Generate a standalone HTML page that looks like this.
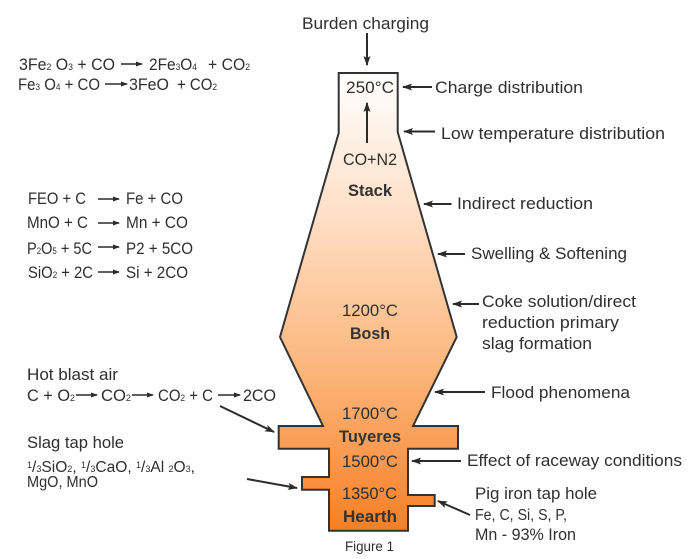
<!DOCTYPE html>
<html>
<head>
<meta charset="utf-8">
<style>
html,body{margin:0;padding:0;background:#fff;width:700px;height:559px;overflow:hidden}
svg{display:block}
text{font-family:"Liberation Sans",sans-serif;font-size:16.5px;fill:#2f2f2f}
.b{font-weight:bold;fill:#333}
.s{font-size:9px}
.f{font-size:14px}
</style>
</head>
<body>
<svg width="700" height="559" viewBox="0 0 700 559" xmlns="http://www.w3.org/2000/svg">
<defs>
<linearGradient id="g" gradientUnits="userSpaceOnUse" x1="0" y1="73" x2="0" y2="531">
<stop offset="0" stop-color="#ffffff"/>
<stop offset="0.3" stop-color="#fee0c8"/>
<stop offset="0.6" stop-color="#fcbc86"/>
<stop offset="0.8" stop-color="#fa9f58"/>
<stop offset="1" stop-color="#f57f24"/>
</linearGradient>
<marker id="a" markerWidth="10" markerHeight="8" refX="9" refY="3.5" orient="auto" markerUnits="userSpaceOnUse">
<path d="M0,0 L10,3.5 L0,7 L2,3.5 Z" fill="#2b2b2b"/>
</marker>
<marker id="m" markerWidth="7" markerHeight="6" refX="6" refY="2.5" orient="auto" markerUnits="userSpaceOnUse">
<path d="M0,0 L7,2.5 L0,5 Z" fill="#2b2b2b"/>
</marker>
</defs>

<polygon fill="url(#g)" stroke="#333" stroke-width="2" stroke-linejoin="miter" points="338.7,73 397.7,73 397.7,132 456.7,337 413,426 458,426 458,448.7 408,448.7 408,495 434.7,495 434.7,506 408,506 408,530.7 329,530.7 329,489.7 302,489.7 302,477 329,477 329,448.7 278.7,448.7 278.7,426 323,426 280,337 338.7,133"/>

<g fill="none" stroke="#2b2b2b" stroke-width="2">
<line x1="367" y1="33" x2="367" y2="65" marker-end="url(#a)"/>
<line x1="367" y1="143" x2="367" y2="103" marker-end="url(#a)"/>
<line x1="432" y1="87" x2="403" y2="87" marker-end="url(#a)"/>
<line x1="435" y1="131.5" x2="404" y2="131.5" marker-end="url(#a)"/>
<line x1="451.500" y1="204" x2="424" y2="204" marker-end="url(#a)"/>
<line x1="465" y1="254" x2="438" y2="254" marker-end="url(#a)"/>
<line x1="479" y1="304" x2="453" y2="304" marker-end="url(#a)"/>
<line x1="485" y1="392" x2="435" y2="392" marker-end="url(#a)"/>
<line x1="461" y1="461" x2="412" y2="461" marker-end="url(#a)"/>
<line x1="470" y1="515" x2="438" y2="501" marker-end="url(#a)"/>
<line x1="220" y1="406" x2="274" y2="432" marker-end="url(#a)"/>
<line x1="247" y1="479" x2="297" y2="488" marker-end="url(#a)"/>
</g>

<g fill="none" stroke="#2b2b2b" stroke-width="1.6">
<line x1="121" y1="64" x2="142" y2="64" marker-end="url(#m)"/>
<line x1="105" y1="84" x2="127" y2="84" marker-end="url(#m)"/>
<line x1="98" y1="199" x2="119" y2="199" marker-end="url(#m)"/>
<line x1="98" y1="223" x2="119" y2="223" marker-end="url(#m)"/>
<line x1="98" y1="247" x2="119" y2="247" marker-end="url(#m)"/>
<line x1="98" y1="272" x2="119" y2="272" marker-end="url(#m)"/>
<line x1="76" y1="395" x2="97" y2="395" marker-end="url(#m)"/>
<line x1="132" y1="395" x2="153" y2="395" marker-end="url(#m)"/>
<line x1="218" y1="395" x2="240" y2="395" marker-end="url(#m)"/>
</g>

<text x="302" y="29" textLength="127" lengthAdjust="spacingAndGlyphs">Burden charging</text>
<text x="346" y="93" textLength="48" lengthAdjust="spacingAndGlyphs">250°C</text>
<text x="343" y="165" textLength="54" lengthAdjust="spacingAndGlyphs">CO+N2</text>
<text class="b" x="348" y="196" textLength="44" lengthAdjust="spacingAndGlyphs">Stack</text>
<text x="342" y="316" textLength="56" lengthAdjust="spacingAndGlyphs">1200°C</text>
<text class="b" x="350" y="339" textLength="40" lengthAdjust="spacingAndGlyphs">Bosh</text>
<text x="342" y="419" textLength="56" lengthAdjust="spacingAndGlyphs">1700°C</text>
<text class="b" x="339" y="442" textLength="62" lengthAdjust="spacingAndGlyphs">Tuyeres</text>
<text x="342" y="467" textLength="56" lengthAdjust="spacingAndGlyphs">1500°C</text>
<text x="342" y="499" textLength="55" lengthAdjust="spacingAndGlyphs">1350°C</text>
<text class="b" x="343" y="522" textLength="54" lengthAdjust="spacingAndGlyphs">Hearth</text>
<text class="f" x="345" y="551" textLength="49" lengthAdjust="spacingAndGlyphs">Figure 1</text>

<text x="435" y="93" textLength="148" lengthAdjust="spacingAndGlyphs">Charge distribution</text>
<text x="441" y="139" textLength="224" lengthAdjust="spacingAndGlyphs">Low temperature distribution</text>
<text x="457" y="209" textLength="136" lengthAdjust="spacingAndGlyphs">Indirect reduction</text>
<text x="471" y="259" textLength="156" lengthAdjust="spacingAndGlyphs">Swelling &amp; Softening</text>
<text x="482" y="307" textLength="154" lengthAdjust="spacingAndGlyphs">Coke solution/direct</text>
<text x="482" y="328" textLength="137" lengthAdjust="spacingAndGlyphs">reduction primary</text>
<text x="482" y="349" textLength="110" lengthAdjust="spacingAndGlyphs">slag formation</text>
<text x="491" y="398" textLength="139" lengthAdjust="spacingAndGlyphs">Flood phenomena</text>
<text x="467" y="466" textLength="215" lengthAdjust="spacingAndGlyphs">Effect of raceway conditions</text>
<text x="475" y="499" textLength="122" lengthAdjust="spacingAndGlyphs">Pig iron tap hole</text>
<text x="475" y="520" textLength="92" lengthAdjust="spacingAndGlyphs" style="font-size:15.5px">Fe, C, Si, S, P,</text>
<text x="475" y="540" textLength="101" lengthAdjust="spacingAndGlyphs">Mn - 93% Iron</text>

<text x="19" y="70" textLength="96" lengthAdjust="spacingAndGlyphs">3Fe<tspan class="s">2</tspan> O<tspan class="s">3</tspan> + CO</text>
<text x="149" y="70" textLength="48" lengthAdjust="spacingAndGlyphs">2Fe<tspan class="s">3</tspan>O<tspan class="s">4</tspan></text>
<text x="208" y="70" textLength="42" lengthAdjust="spacingAndGlyphs">+ CO<tspan class="s">2</tspan></text>
<text x="18" y="90" textLength="82" lengthAdjust="spacingAndGlyphs">Fe<tspan class="s">3</tspan> O<tspan class="s">4</tspan> + CO</text>
<text x="129" y="90" textLength="40" lengthAdjust="spacingAndGlyphs">3FeO</text>
<text x="177" y="90" textLength="40" lengthAdjust="spacingAndGlyphs">+ CO<tspan class="s">2</tspan></text>

<text x="28" y="204" textLength="58" lengthAdjust="spacingAndGlyphs">FEO + C</text>
<text x="126" y="204" textLength="57" lengthAdjust="spacingAndGlyphs">Fe + CO</text>
<text x="27" y="228" textLength="61" lengthAdjust="spacingAndGlyphs">MnO + C</text>
<text x="126" y="228" textLength="62" lengthAdjust="spacingAndGlyphs">Mn + CO</text>
<text x="27" y="254" textLength="65" lengthAdjust="spacingAndGlyphs">P<tspan class="s">2</tspan>O<tspan class="s">5</tspan> + 5C</text>
<text x="126" y="254" textLength="67" lengthAdjust="spacingAndGlyphs">P2 + 5CO</text>
<text x="28" y="278" textLength="65" lengthAdjust="spacingAndGlyphs">SiO<tspan class="s">2</tspan> + 2C</text>
<text x="126" y="278" textLength="62" lengthAdjust="spacingAndGlyphs">Si + 2CO</text>

<text x="27" y="380" textLength="91" lengthAdjust="spacingAndGlyphs">Hot blast air</text>
<text x="27" y="401" textLength="48" lengthAdjust="spacingAndGlyphs">C + O<tspan class="s">2</tspan></text>
<text x="101" y="401" textLength="30" lengthAdjust="spacingAndGlyphs">CO<tspan class="s">2</tspan></text>
<text x="158" y="401" textLength="55" lengthAdjust="spacingAndGlyphs">CO<tspan class="s">2</tspan> + C</text>
<text x="243" y="401" textLength="33" lengthAdjust="spacingAndGlyphs">2CO</text>
<text x="27" y="448" textLength="97" lengthAdjust="spacingAndGlyphs">Slag tap hole</text>
<text x="27" y="472" textLength="168" lengthAdjust="spacingAndGlyphs" style="font-size:15.5px"><tspan class="s" dy="-4">1</tspan><tspan dy="4">/</tspan><tspan class="s">3</tspan>SiO<tspan class="s">2</tspan>, <tspan class="s" dy="-4">1</tspan><tspan dy="4">/</tspan><tspan class="s">3</tspan>CaO, <tspan class="s" dy="-4">1</tspan><tspan dy="4">/</tspan><tspan class="s">3</tspan>Al <tspan class="s">2</tspan>O<tspan class="s">3</tspan>,</text>
<text x="27" y="487" textLength="71" lengthAdjust="spacingAndGlyphs" style="font-size:15.5px">MgO, MnO</text>
</svg>
</body>
</html>
